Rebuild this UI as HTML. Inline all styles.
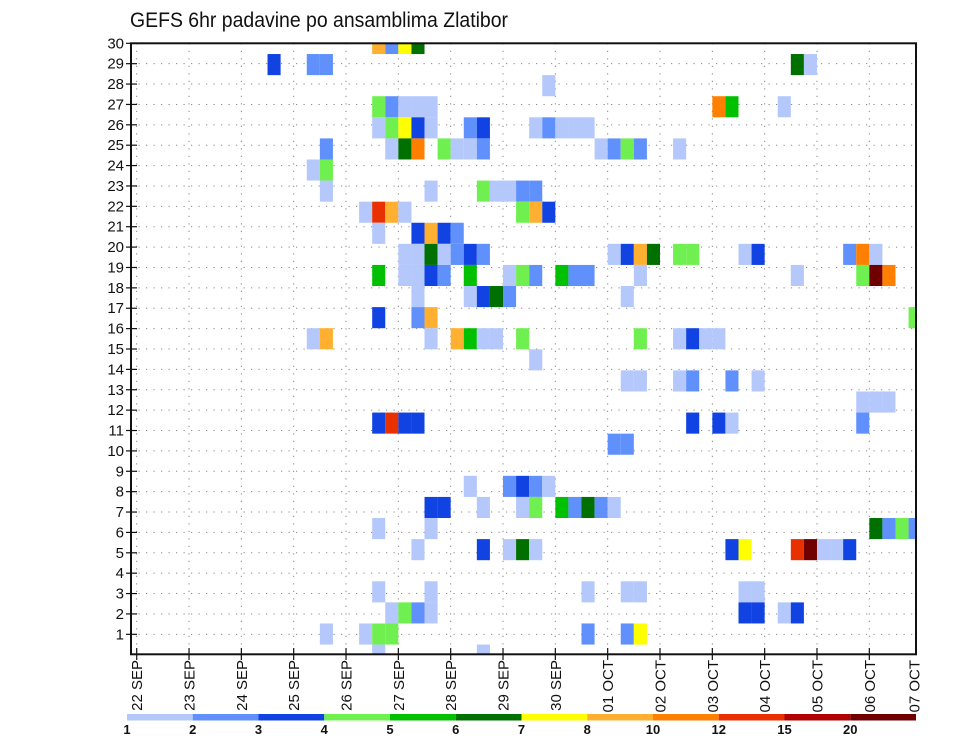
<!DOCTYPE html>
<html><head><meta charset="utf-8"><style>
html,body{margin:0;padding:0;background:#fff;}
svg{display:block;font-family:"Liberation Sans",sans-serif;}
</style></head><body>
<svg id="chart" width="960" height="742" viewBox="0 0 960 742" xmlns="http://www.w3.org/2000/svg">
<text x="130" y="27" font-size="21" textLength="378" lengthAdjust="spacingAndGlyphs" fill="#111">GEFS 6hr padavine po ansamblima Zlatibor</text>
<defs><clipPath id="plotclip"><rect x="131" y="43.3" width="785" height="611"/></clipPath></defs>
<g id="grid"></g>
<g id="cells" clip-path="url(#plotclip)"></g>
<rect x="131" y="43.3" width="785" height="611" fill="none" stroke="#111" stroke-width="2"/>
<g id="yaxis"></g>
<g id="xaxis"></g>
<g id="colorbar"></g>
</svg>
<script>
// data: 6-hour time step index (0 = 22 SEP 00Z), ensemble member row index, precipitation class
const cellTime = [18,19,20,21, 10,13,14,50,51, 31, 18,19,20,21,22,44,45,49,
 18,19,20,21,22,25,26,30,31,32,33,34,
 14,19,20,21,23,24,25,26,35,36,37,38,41,
 13,14, 14,22,26,27,28,29,30, 17,18,19,20,29,30,31, 18,21,22,23,24,
 20,21,22,23,24,25,26,36,37,38,39,41,42,46,47,54,55,56,
 18,20,21,22,23,25,28,29,30,32,33,34,38,50,55,56,57,
 21,25,26,27,28,37, 18,21,22,59,
 13,14,22,24,25,26,27,29,38,41,42,43,44,
 30, 37,38,41,42,45,47, 55,56,57, 18,19,20,21,42,44,45,55, 36,37,
 25,28,29,30,31, 22,23,26,29,30,32,33,34,35,36, 18,22,56,57,58,59,
 21,26,28,29,30,45,46,50,51,52,53,54, 18,22,34,37,38,46,47,
 19,20,21,22,46,47,49,50, 14,17,18,19,34,37,38, 18,26];
const cellMember = [29,29,29,29, 28,28,28,28,28, 27, 26,26,26,26,26,26,26,26,
 25,25,25,25,25,25,25,25,25,25,25,25,
 24,24,24,24,24,24,24,24,24,24,24,24,24,
 23,23, 22,22,22,22,22,22,22, 21,21,21,21,21,21,21, 20,20,20,20,20,
 19,19,19,19,19,19,19,19,19,19,19,19,19,19,19,19,19,19,
 18,18,18,18,18,18,18,18,18,18,18,18,18,18,18,18,18,
 17,17,17,17,17,17, 16,16,16,16,
 15,15,15,15,15,15,15,15,15,15,15,15,15,
 14, 13,13,13,13,13,13, 12,12,12, 11,11,11,11,11,11,11,11, 10,10,
 8,8,8,8,8, 7,7,7,7,7,7,7,7,7,7, 6,6,6,6,6,6,
 5,5,5,5,5,5,5,5,5,5,5,5, 3,3,3,3,3,3,3,
 2,2,2,2,2,2,2,2, 1,1,1,1,1,1,1, 0,0];
const cellLevel = [8,2,7,6, 3,2,2,6,1, 1, 4,2,1,1,1,9,5,1,
 1,4,7,3,1,2,3,1,2,1,1,1,
 2,1,6,9,4,1,1,2,1,2,4,2,1,
 1,4, 1,1,4,1,1,2,2, 1,10,8,1,4,8,3, 1,3,8,3,2,
 1,1,6,1,2,3,2,1,3,8,6,4,4,1,3,2,9,1,
 5,1,1,3,2,5,1,4,2,5,2,2,1,1,4,12,9,
 1,1,3,6,2,1, 3,2,8,4,
 1,8,1,8,5,1,1,4,4,1,3,1,1,
 1, 1,1,1,2,2,1, 1,1,1, 3,10,3,3,3,3,1,2, 2,2,
 1,2,3,2,1, 3,3,1,1,4,5,2,6,2,1, 1,1,6,2,4,2,
 1,3,1,6,1,3,7,10,12,1,1,3, 1,1,1,1,1,1,1,
 1,4,2,1,3,3,1,3, 1,1,4,4,2,2,7, 1,1];
const yTicks = [1,2,3,4,5,6,7,8,9,10,11,12,13,14,15,16,17,18,19,20,21,22,23,24,25,26,27,28,29,30];
const dayLabels = ["22 SEP","23 SEP","24 SEP","25 SEP","26 SEP","27 SEP","28 SEP","29 SEP","30 SEP","01 OCT","02 OCT","03 OCT","04 OCT","05 OCT","06 OCT","07 OCT"];
const legendLabels = ["1","2","3","4","5","6","7","8","10","12","15","20"];
const palette = ["#b4c8fc","#6090fc","#1043e2","#70f050","#00c000","#007000","#ffff00","#ffb030","#ff8000","#e83000","#b00000","#700000"];

const NS = "http://www.w3.org/2000/svg";
const X0 = 136.7, DAY = 52.33, STEP = DAY/4;
function xDay(d){ return X0 + d*DAY; }
function xStep(c){ return X0 + c*STEP; }
function yRow(v){ return 654.7 - 20.38*v; }
const CELLH = 21.09;
function yMember(j){ return 655.1 - CELLH*j; }
function mk(tag, attrs, parent){ const e=document.createElementNS(NS,tag); for(const k in attrs) e.setAttribute(k, attrs[k]); parent.appendChild(e); return e; }

const grid = document.getElementById('grid');
yTicks.forEach(v=>{
  const l = mk('line',{x1:131,x2:916,y1:yRow(v),y2:yRow(v),stroke:'#888','stroke-width':1,'stroke-dasharray':'1.2 6.3'},grid);
  
  
});
dayLabels.forEach((s,d)=>{
  const x = xDay(d); if (x>916) return;
  const l = mk('line',{x1:x,x2:x,y1:43.3,y2:654.7,stroke:'#888','stroke-width':1,'stroke-dasharray':'1.2 6.3'},grid);
  
  
});

const cells = document.getElementById('cells');
cellTime.forEach((c,i)=>{
  const j = cellMember[i];
  const r = mk('rect',{x:xStep(c),y:yMember(j)-CELLH/2,width:STEP,height:CELLH,fill:palette[cellLevel[i]-1]},cells);
  
  
});

const yaxis = document.getElementById('yaxis');
yTicks.forEach(v=>{
  const y = yRow(v);
  const t = mk('line',{x1:126,x2:137,y1:y,y2:y,stroke:'#111','stroke-width':1.2},yaxis);
  
  
  const tx = mk('text',{x:124,y:y+5,'text-anchor':'end','font-size':15,fill:'#111'},yaxis);
  tx.textContent = v;
  
  
});

const xaxis = document.getElementById('xaxis');
dayLabels.forEach((s,d)=>{
  let x = xDay(d);
  if (x<=916){
    const t = mk('line',{x1:x,x2:x,y1:648,y2:660,stroke:'#111','stroke-width':1.2},xaxis);
    
    
  }
  if (x>916) x = 914;
  const tx = mk('text',{x:0,y:0,'text-anchor':'end','font-size':15,fill:'#111',transform:`translate(${x+5.5},660) rotate(-90)`},xaxis);
  tx.textContent = s;
  
  
});

const cb = document.getElementById('colorbar');
const CB0 = 127, CBW = (916-127)/palette.length;
palette.forEach((col,i)=>{
  const r = mk('rect',{x:CB0+i*CBW,y:714,width:CBW,height:6.5,fill:col},cb);
  
  
});
legendLabels.forEach((s,i)=>{
  const tx = mk('text',{x:CB0+i*CBW,y:734,'text-anchor':'middle','font-size':13,'font-weight':'bold',fill:'#111'},cb);
  tx.textContent = s;
  
  
});
</script>
</body></html>
